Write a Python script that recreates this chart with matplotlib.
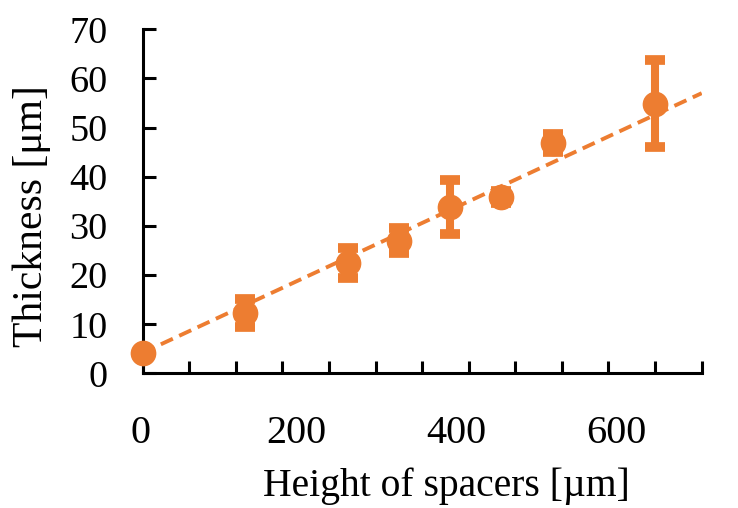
import matplotlib
matplotlib.use("Agg")
import matplotlib.pyplot as plt
import matplotlib.transforms as mtransforms
import numpy as np

# ---- data ----
spacer_height = [0, 110, 220, 275, 330, 385, 440, 550]
thickness = [4.1, 12.3, 22.5, 27.0, 33.9, 35.9, 46.9, 54.9]
thickness_err = [0.5, 2.8, 3.0, 2.6, 5.5, 1.3, 1.8, 8.9]
trend_x = [0, 600]
trend_y = [4.2, 57.0]
x_tick_labels = ["0", "200", "400", "600"]
y_ticks = [0, 10, 20, 30, 40, 50, 60, 70]

ORANGE = "#ED7D31"

plt.rcParams['font.family'] = ['Liberation Serif', 'DejaVu Serif']

fig = plt.figure(figsize=(7.38, 5.08), dpi=100)
ax = fig.add_axes([0.1931, 0.2648, 0.7577, 0.6776])

ax.plot(trend_x, trend_y, color=ORANGE, lw=2.8, linestyle=(0, (3.4, 1.8)), zorder=2)
eb = ax.errorbar(spacer_height, thickness, yerr=thickness_err, fmt='o', color=ORANGE,
                 markersize=17.5, elinewidth=5.8, capsize=7, capthick=7.0, zorder=3)
for art in eb.lines[0:1] + tuple(eb.lines[1]) + tuple(eb.lines[2]):
    art.set_clip_on(False)

ax.set_xlim(0, 600)
ax.set_ylim(0, 70)

for s in ['top', 'right']:
    ax.spines[s].set_visible(False)
for s in ['left', 'bottom']:
    ax.spines[s].set_linewidth(2.2)
    ax.spines[s].set_color('black')
    ax.spines[s].set_zorder(1)

ax.set_yticks(y_ticks)
ax.tick_params(axis='y', direction='in', length=9.4, width=2.2, pad=25.0, labelsize=27.5)
ax.set_xticks(np.arange(0, 601, 50))
ax.set_xticklabels([])
ax.tick_params(axis='x', direction='in', length=9.0, width=2.2)

# x tick labels placed as in the reference picture
label_pos_px = [140, 296.7, 456.7, 616.7]  # horizontal centres in pixels
px_per_unit = (701.7 - 142.5) / 600.0
trans = mtransforms.blended_transform_factory(ax.transData, ax.transAxes)
for lab, px in zip(x_tick_labels, label_pos_px):
    ax.text((px - 142.5) / px_per_unit, -0.202, lab, transform=trans,
            ha='center', va='baseline', fontsize=29, clip_on=False)

ax.set_xlabel("Height of spacers [µm]", fontsize=28.5, va='baseline')
ax.xaxis.set_label_coords(0.544, -0.355)
ax.set_ylabel("Thickness [μm]", fontsize=30, va='center')
ax.yaxis.set_label_coords(-0.1976, 0.456)

fig.savefig("out.png", dpi=100)
